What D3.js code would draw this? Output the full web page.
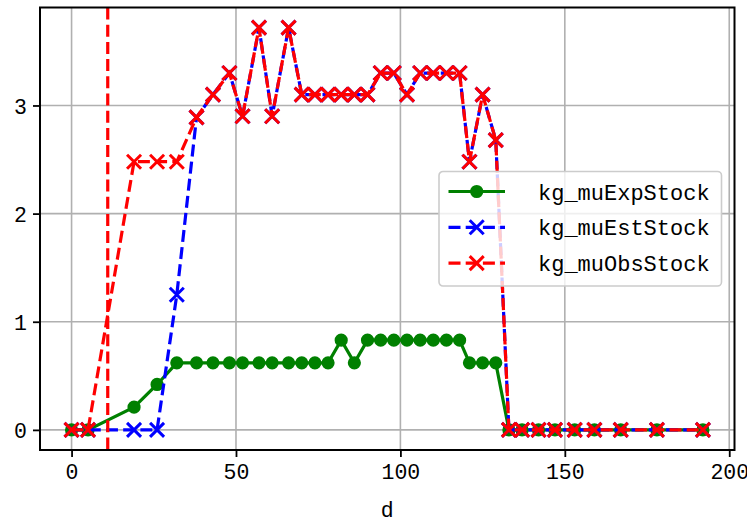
<!DOCTYPE html>
<html lang="en">
<head>
<meta charset="UTF-8">
<title>kg stock</title>
<style>
  body { margin: 0; background: #fff; }
  svg text { font-family: "Liberation Mono", "DejaVu Sans Mono", monospace; fill: #000; }
</style>
</head>
<body>
<svg id="chart" width="747" height="520"></svg>

<script src="https://cdn.jsdelivr.net/npm/d3@7"></script>

<script>

var days = [0, 5, 19, 26, 32, 38, 43, 48, 52, 57, 61, 66, 70, 74, 78, 82, 86, 90, 94, 98,
  102, 106, 110, 114, 118, 121, 125, 129, 133, 137, 142, 147, 153, 159, 167, 178, 192];

var muExpStock = [0, 0, 0.21, 0.42, 0.62, 0.62, 0.62, 0.62, 0.62, 0.62, 0.62, 0.62, 0.62, 0.62, 0.62,
  0.83, 0.62, 0.83, 0.83, 0.83, 0.83, 0.83, 0.83, 0.83, 0.83, 0.62, 0.62, 0.62,
  0, 0, 0, 0, 0, 0, 0, 0, 0];

var muEstStock = [0, 0, 0, 0, 1.25, 2.89, 3.10, 3.30, 2.90, 3.72, 2.90, 3.72, 3.10, 3.10, 3.10,
  3.10, 3.10, 3.10, 3.30, 3.30, 3.10, 3.30, 3.30, 3.30, 3.30, 2.48, 3.10, 2.68,
  0, 0, 0, 0, 0, 0, 0, 0, 0];

var muObsStock = [0, 0, 2.48, 2.48, 2.48, 2.89, 3.10, 3.30, 2.90, 3.72, 2.90, 3.72, 3.10, 3.10, 3.10,
  3.10, 3.10, 3.10, 3.30, 3.30, 3.10, 3.30, 3.30, 3.30, 3.30, 2.48, 3.10, 2.68,
  0, 0, 0, 0, 0, 0, 0, 0, 0];

var markDay = 11;
var xTicks = [0, 50, 100, 150, 200];
var yTicks = [0, 1, 2, 3];
var seriesNames = ["kg_muExpStock", "kg_muEstStock", "kg_muObsStock"];
var xLabel = "d";

var dashes = "12,5.2";
var series = [
  { name: seriesNames[0], values: muExpStock, color: "#008000", dash: null, marker: "o" },
  { name: seriesNames[1], values: muEstStock, color: "#0000ff", dash: dashes, marker: "x" },
  { name: seriesNames[2], values: muObsStock, color: "#ff0000", dash: dashes, marker: "x" }
];

var svg = d3.select("#chart"),
  pLeft = 40, pRight = 734.5, pTop = 7.5, pBottom = 450;

// matplotlib style 5% margins
var xExt = d3.extent(days),
  xPad = (xExt[1] - xExt[0]) * 0.05,
  yExt = d3.extent(muExpStock.concat(muEstStock, muObsStock)),
  yPad = (yExt[1] - yExt[0]) * 0.05;

var x = d3.scaleLinear().domain([xExt[0] - xPad, xExt[1] + xPad]).range([pLeft, pRight]),
  y = d3.scaleLinear().domain([yExt[0] - yPad, yExt[1] + yPad]).range([pBottom, pTop]);

// grid
var grid = svg.append("g").attr("stroke", "#b0b0b0").attr("stroke-width", 1.6);
grid.selectAll(".gx").data(xTicks).enter().append("line")
  .attr("x1", function (d) { return x(d); }).attr("x2", function (d) { return x(d); })
  .attr("y1", pTop).attr("y2", pBottom);
grid.selectAll(".gy").data(yTicks).enter().append("line")
  .attr("y1", function (d) { return y(d); }).attr("y2", function (d) { return y(d); })
  .attr("x1", pLeft).attr("x2", pRight);

// axes
var xAxis = svg.append("g")
  .attr("transform", "translate(0," + pBottom + ")")
  .call(d3.axisBottom(x).tickValues(xTicks).tickSize(7).tickPadding(7).tickFormat(d3.format("d")));
var yAxis = svg.append("g")
  .attr("transform", "translate(" + pLeft + ",0)")
  .call(d3.axisLeft(y).tickValues(yTicks).tickSize(7).tickPadding(6).tickFormat(d3.format("d")));

[xAxis, yAxis].forEach(function (a) {
  a.select(".domain").remove();
  a.selectAll(".tick line").attr("stroke", "#000").attr("stroke-width", 1.8);
  a.selectAll(".tick text").attr("font-size", 21.5).attr("font-family", null);
});
yAxis.selectAll(".tick text").attr("dy", "0.36em");

svg.append("text")
  .attr("x", (pLeft + pRight) / 2).attr("y", 517)
  .attr("text-anchor", "middle").attr("font-size", 21.5)
  .text(xLabel);

// data
var line = d3.line()
  .x(function (d, i) { return x(days[i]); })
  .y(function (d) { return y(d); });

function drawMarker(g, kind, color) {
  if (kind === "o") {
    g.append("circle").attr("r", 5.6).attr("fill", color)
      .attr("stroke", color).attr("stroke-width", 2);
  } else {
    g.append("path").attr("d", "M-7,-7L7,7M-7,7L7,-7")
      .attr("stroke", color).attr("stroke-width", 3).attr("fill", "none");
  }
}

series.forEach(function (s) {
  svg.append("path")
    .datum(s.values)
    .attr("d", line)
    .attr("fill", "none")
    .attr("stroke", s.color)
    .attr("stroke-width", 3.2)
    .attr("stroke-dasharray", s.dash);

  svg.append("g").selectAll("g").data(s.values).enter().append("g")
    .attr("transform", function (d, i) { return "translate(" + x(days[i]) + "," + y(d) + ")"; })
    .each(function () { drawMarker(d3.select(this), s.marker, s.color); });
});

svg.append("line")
  .attr("x1", x(markDay)).attr("x2", x(markDay))
  .attr("y1", pTop).attr("y2", pBottom)
  .attr("stroke", "#ff0000").attr("stroke-width", 3.2)
  .attr("stroke-dasharray", dashes);

// spines
svg.append("rect")
  .attr("x", pLeft).attr("y", pTop)
  .attr("width", pRight - pLeft).attr("height", pBottom - pTop)
  .attr("fill", "none").attr("stroke", "#000").attr("stroke-width", 2);

// legend
var legend = svg.append("g").attr("transform", "translate(439,171.5)");
legend.append("rect")
  .attr("width", 282.5).attr("height", 114.5).attr("rx", 4)
  .attr("fill", "#fff").attr("fill-opacity", 0.8)
  .attr("stroke", "#cccccc").attr("stroke-width", 1.6);

var rows = legend.selectAll(".row").data(series).enter().append("g")
  .attr("transform", function (d, i) { return "translate(0," + (20 + i * 35.8) + ")"; });

rows.append("line")
  .attr("x1", 9.5).attr("x2", 66)
  .attr("stroke", function (d) { return d.color; })
  .attr("stroke-width", 3.2)
  .attr("stroke-dasharray", function (d) { return d.dash; });
rows.append("g")
  .attr("transform", "translate(37.7,0)")
  .each(function (d) { drawMarker(d3.select(this), d.marker, d.color); });
rows.append("text")
  .attr("x", 99).attr("y", 8)
  .attr("font-size", 22)
  .text(function (d) { return d.name; });

</script>

</body>
</html>
